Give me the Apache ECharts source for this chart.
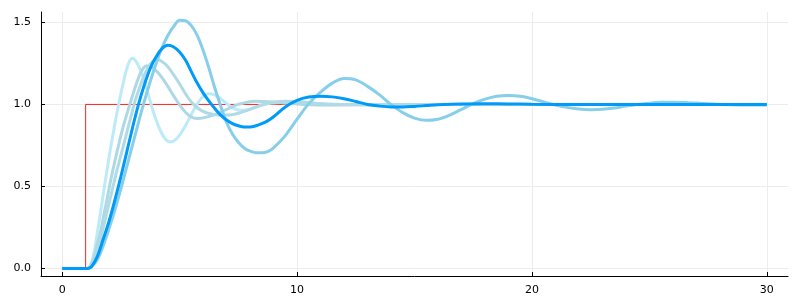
<!DOCTYPE html>
<html>
<head>
<meta charset="utf-8">
<script src="https://cdn.jsdelivr.net/npm/echarts@6/dist/echarts.min.js"></script>
<style>html,body{margin:0;padding:0;background:#fff}#c{width:800px;height:300px}</style>
</head>
<body>
<div id="c"></div>
<script>
// tick values
const xTicks = [0, 10, 20, 30];
const yTicks = [0, 0.5, 1.0, 1.5];

// reference step
const refT = [0, 1, 1, 30];
const refY = [0, 0, 1, 1];

// lightest curve
const lT = [0,1,1.1,1.2,1.3,1.4,1.5,1.6,1.7,1.8,1.9,2.0,2.1,2.2,2.3,2.4,2.5,2.6,2.7,2.8,2.9,3.0,3.2,3.4,3.6,3.8,4.0,4.2,4.4,4.6,4.8,5.0,5.2,5.4,5.6,5.8,6.0,6.25,6.5,6.75,7.0,7.25,7.6,7.9,8.2,8.5,8.9,9.3,9.7,10.2,11,12,13,30];
const lY = [0,0,0.002,0.02,0.06,0.13,0.22,0.31,0.405,0.5,0.59,0.68,0.765,0.845,0.925,0.995,1.065,1.13,1.19,1.238,1.272,1.282,1.25,1.185,1.095,0.995,0.905,0.835,0.788,0.772,0.782,0.8125,0.858,0.9115,0.966,1.014,1.049,1.065,1.057,1.035,1.006,0.98,0.964,0.968,0.98,0.995,1.008,1.012,1.01,1.003,0.998,0.998,1.0,1.0];

// light blue curve
const lbT = [0,1,1.1,1.2,1.3,1.4,1.5,1.6,1.7,1.8,1.9,2.0,2.1,2.2,2.3,2.4,2.5,2.6,2.7,2.8,2.9,3.0,3.1,3.2,3.3,3.4,3.5,3.6,3.8,4.0,4.25,4.5,4.75,5.0,5.25,5.5,5.75,6.0,6.5,7.0,7.5,8.2,9.0,10,11,12,13,30];
const lbY = [0,0,0.002,0.015,0.045,0.09,0.15,0.205,0.27,0.345,0.415,0.49,0.56,0.625,0.69,0.75,0.81,0.865,0.915,0.962,1.008,1.055,1.1,1.142,1.18,1.208,1.228,1.236,1.227,1.2056,1.1636,1.11,1.052,0.997,0.9526,0.9236,0.915,0.918,0.938,0.97,1.0,1.02,1.015,1.003,0.997,0.998,1.0,1.0];

// powder blue curve
const pT = [0,1,1.1,1.2,1.3,1.4,1.5,1.6,1.7,1.8,1.9,2.0,2.1,2.2,2.3,2.4,2.5,2.6,2.7,2.8,2.9,3.0,3.1,3.25,3.5,3.75,4.03,4.25,4.5,4.75,5.0,5.25,5.5,5.75,6.0,6.25,6.5,6.75,7.0,7.25,7.5,8.0,8.5,9.0,9.5,10.0,10.5,11.0,12,13,14,30];
const pY = [0,0,0.002,0.012,0.035,0.075,0.12,0.165,0.22,0.28,0.34,0.4,0.46,0.52,0.58,0.635,0.69,0.745,0.8,0.855,0.91,0.965,1.02,1.083,1.179,1.245,1.273,1.262,1.23,1.18,1.125,1.065,1.015,0.98,0.958,0.945,0.938,0.935,0.935,0.938,0.946,0.97,0.997,1.014,1.02,1.018,1.012,1.005,0.998,0.997,1.0,1.0];

// sky blue curve
const sT = [0,1,1.1,1.25,1.5,1.75,2,2.25,2.5,2.75,3,3.25,3.5,3.75,4,4.25,4.5,4.75,5,5.25,5.5,5.75,6,6.25,6.5,6.75,7,7.25,7.5,7.75,8,8.25,8.5,8.75,9,9.5,10,10.5,11,11.5,12,12.5,13,13.5,14,14.5,15,15.5,16,16.5,17,17.5,18,18.5,19,19.5,20,20.5,21,21.5,22,22.5,23,23.5,24,24.5,25,25.5,26,26.5,27,27.5,28,29,30];
const sY = [0,0,0.001,0.01,0.055,0.14,0.245,0.36,0.485,0.62,0.755,0.89,1.02,1.14,1.25,1.345,1.42,1.475,1.513,1.51,1.48,1.42,1.33,1.22,1.1,0.99,0.89,0.82,0.77,0.735,0.715,0.706,0.705,0.712,0.735,0.81,0.91,1.005,1.075,1.13,1.158,1.15,1.11,1.06,1.0,0.95,0.917,0.903,0.91,0.935,0.97,1.005,1.032,1.05,1.055,1.05,1.035,1.015,0.997,0.982,0.972,0.968,0.97,0.978,0.99,1.0,1.008,1.013,1.014,1.012,1.008,1.004,1.0,0.996,0.997];

// main (blue) curve
const bT = [0,1,1.1,1.25,1.5,1.75,2,2.25,2.5,2.75,3,3.25,3.5,3.75,4,4.25,4.5,4.75,5,5.25,5.5,5.75,6,6.25,6.5,6.75,7,7.25,7.5,7.75,8,8.25,8.5,8.75,9,9.5,10,10.5,11,11.5,12,12.5,13,13.5,14,14.5,15,15.5,16,17,18,19,20,22,24,26,28,30];
const bY = [0,0,0.001,0.012,0.075,0.18,0.29,0.42,0.56,0.71,0.86,1.0,1.12,1.22,1.29,1.34,1.36,1.35,1.32,1.27,1.2,1.13,1.07,1.02,0.975,0.935,0.905,0.883,0.87,0.863,0.863,0.87,0.883,0.9,0.925,0.985,1.025,1.045,1.05,1.046,1.035,1.018,1.0,0.99,0.985,0.985,0.988,0.993,0.998,1.003,1.004,1.003,1.001,0.999,0.999,1.0,1.0,1.0];

const zip = (t, y) => t.map((v, i) => [v, y[i]]);

const font = 'DejaVu Sans';
const chart = echarts.init(document.getElementById('c'), null, {renderer: 'canvas'});
const curve = (name, t, y, color, w, z) => ({
  name, type: 'line', data: zip(t, y), showSymbol: false, smooth: 0.35,
  lineStyle: {color, width: w}, itemStyle: {color}, z, silent: true
});
chart.setOption({
  animation: false,
  backgroundColor: '#ffffff',
  grid: {left: 41, right: 12, top: 12, bottom: 24, containLabel: false, outerBoundsMode: 'none'},
  xAxis: {
    type: 'value', min: -0.9, max: 30.9,
    axisLine: {show: true, onZero: false, lineStyle: {color: '#000', width: 1}},
    axisTick: {show: true, inside: true, length: 4, customValues: xTicks, lineStyle: {color: '#000'}},
    axisLabel: {customValues: xTicks, color: '#000', fontFamily: font, fontSize: 11, margin: 9, formatter: v => String(v)},
    splitLine: {show: true, lineStyle: {color: '#ececec', width: 1}}
  },
  yAxis: {
    type: 'value', min: -0.045, max: 1.563,
    axisLine: {show: true, onZero: false, lineStyle: {color: '#000', width: 1}},
    axisTick: {show: true, inside: true, length: 4, customValues: yTicks, lineStyle: {color: '#000'}},
    axisLabel: {customValues: yTicks, color: '#000', fontFamily: font, fontSize: 11, margin: 10, formatter: v => v.toFixed(1)},
    splitLine: {show: true, lineStyle: {color: '#ececec', width: 1}}
  },
  series: [
    {name: 'ref', type: 'line', data: zip(refT, refY), showSymbol: false, lineStyle: {color: '#ff2020', width: 1}, z: 1, silent: true},
    curve('c1', lT, lY, '#bdeaf8', 3, 2),
    curve('c2', lbT, lbY, '#add8e6', 3, 3),
    curve('c3', pT, pY, '#b0dbe6', 3, 4),
    curve('c4', sT, sY, '#87ceeb', 3, 5),
    curve('c5', bT, bY, '#009af9', 3, 6)
  ]
});
</script>
</body>
</html>
